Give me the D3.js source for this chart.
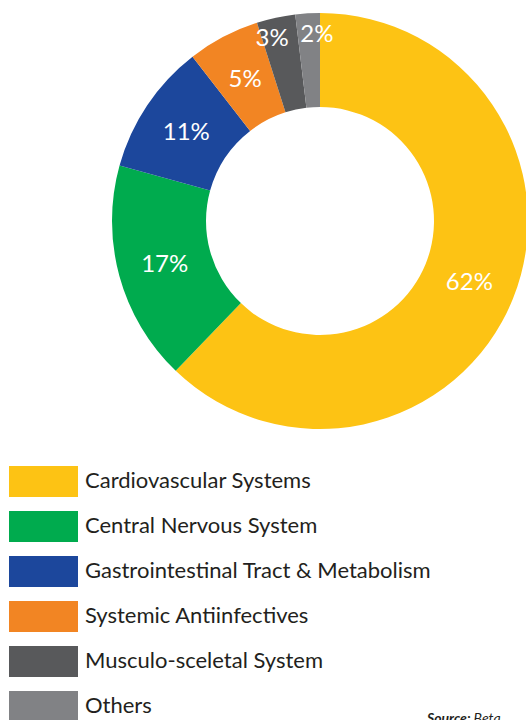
<!DOCTYPE html>
<html>
<head>
<meta charset="utf-8">
<script src="https://cdn.jsdelivr.net/npm/d3@7"></script>
<style>
  html, body { margin: 0; padding: 0; background: #fff; overflow: hidden; }
  svg { display: block; font-family: Lato, 'Open Sans', sans-serif; }
</style>
</head>
<body>
<svg id="chart"></svg>
<script>
// data
var categories = ['Cardiovascular Systems', 'Central Nervous System', 'Gastrointestinal Tract & Metabolism', 'Systemic Antiinfectives', 'Musculo-sceletal System', 'Others'];
var shares = [62.2, 17.1, 10.2, 5.6, 3.0, 1.9];
var shareLabels = ['62%', '17%', '11%', '5%', '3%', '2%'];
var colors = ['#FDC314', '#00AB4E', '#1C479C', '#F28523', '#58595B', '#818285'];

var svgWidth = 526;
var svgHeight = 720;

var cx = 320, cy = 221;
var outerR = 208, innerR = 114;

var svg = d3.select('#chart').attr('width', svgWidth).attr('height', svgHeight);

var pie = d3.pie().sort(null).value(function(d) { return d; });
var arcs = pie(shares);

var arc = d3.arc().innerRadius(innerR).outerRadius(outerR);
var midR = (innerR + outerR) / 2;
var labelArc = d3.arc().innerRadius(midR).outerRadius(midR);
var smallLabelArc = d3.arc().innerRadius(188).outerRadius(188);

// small slices: labels pushed outward and spread sideways so they don't collide
var smallNudge = { 4: -8, 5: 8 };

var donut = svg.append('g').attr('transform', 'translate(' + cx + ',' + cy + ')');

donut.selectAll('path.slice')
  .data(arcs)
  .enter()
  .append('path')
  .attr('class', 'slice')
  .attr('d', arc)
  .attr('fill', function(d, i) { return colors[i]; });

donut.selectAll('text.pct')
  .data(arcs)
  .enter()
  .append('text')
  .attr('class', 'pct')
  .attr('transform', function(d, i) {
    var c = d.value < 4 ? smallLabelArc.centroid(d) : labelArc.centroid(d);
    var nx = smallNudge[i] || 0;
    return 'translate(' + (c[0] + nx) + ',' + c[1] + ')';
  })
  .attr('text-anchor', 'middle')
  .attr('dy', '0.36em')
  .attr('fill', '#fff')
  .style('font-size', '24px')
  .text(function(d, i) { return shareLabels[i]; });

// legend
var legendY = d3.scaleBand()
  .domain(categories)
  .range([466, 466 + 45 * categories.length])
  .paddingInner(0);

var legend = svg.append('g').attr('class', 'legend');

var items = legend.selectAll('g')
  .data(categories)
  .enter()
  .append('g')
  .attr('transform', function(d) { return 'translate(9,' + legendY(d) + ')'; });

items.append('rect')
  .attr('width', 69)
  .attr('height', 31)
  .attr('fill', function(d, i) { return colors[i]; });

items.append('text')
  .attr('x', 76)
  .attr('y', 22)
  .attr('fill', '#231F20')
  .style('font-size', '22px')
  .text(function(d) { return d; });

var source = svg.append('text')
  .attr('x', 427)
  .attr('y', 723)
  .attr('fill', '#231F20')
  .style('font-size', '14px')
  .style('font-style', 'italic');
source.append('tspan').style('font-weight', 'bold').text('Source: ');
source.append('tspan').text('Beta');
</script>
</body>
</html>
